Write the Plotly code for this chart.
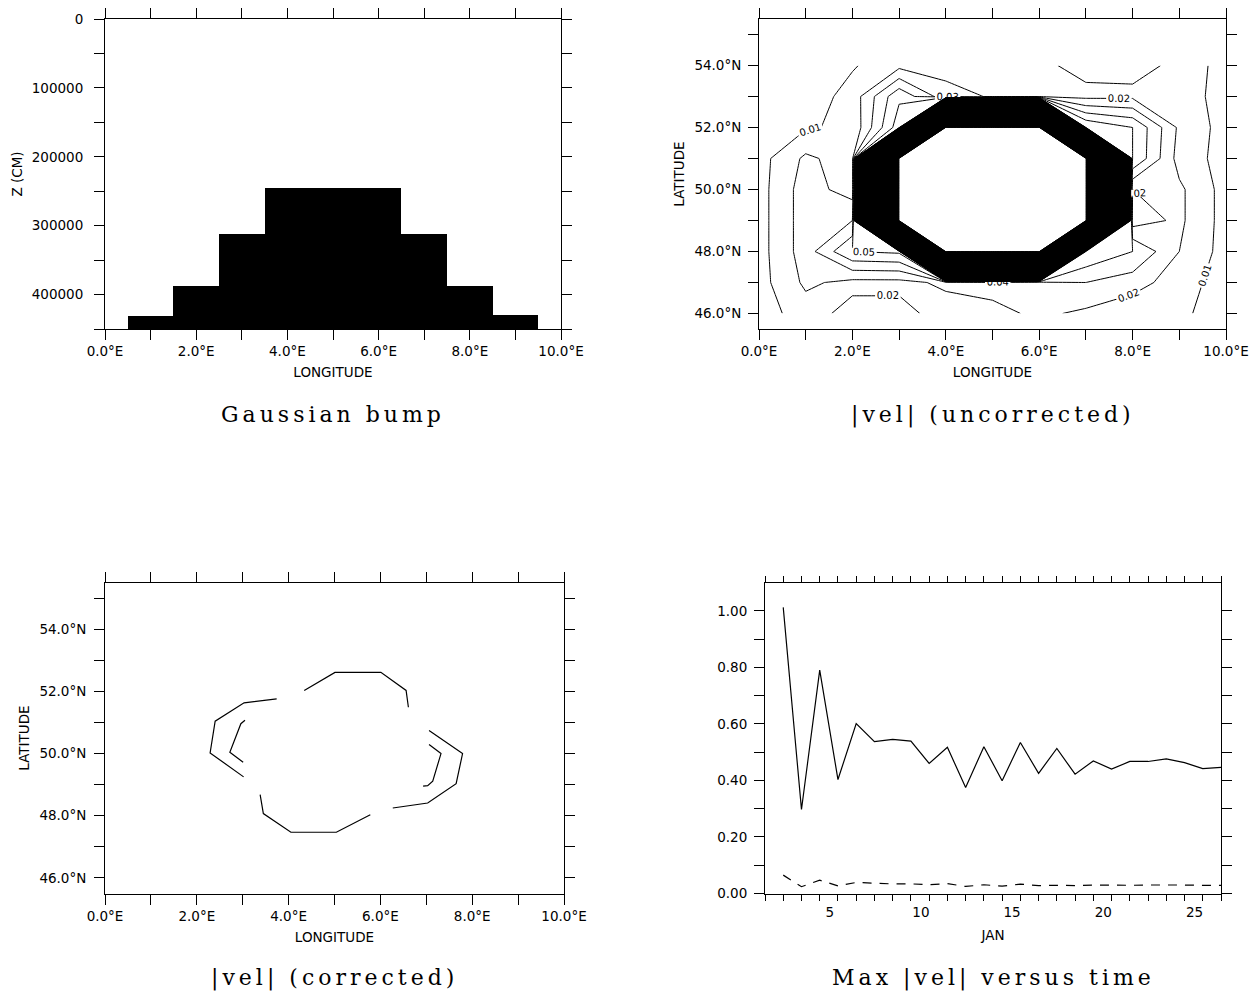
import plotly.graph_objects as go

# ---------------- data ----------------
# Panel 1: Gaussian bump (depth in cm)
bump_lon = [0, 1, 2, 3, 4, 5, 6, 7, 8, 9, 10]
bump_depth = [450000, 431500, 388000, 312500, 245500, 245500, 245500, 312000, 387000, 429500, 450000]
depth_bottom = 450000

# Panel 2: |vel| uncorrected on 1-degree grid (rows = latitude 46..54, cols = longitude 0..10)
grid_lon = [0, 1, 2, 3, 4, 5, 6, 7, 8, 9, 10]
grid_lat = [46, 47, 48, 49, 50, 51, 52, 53, 54]
vel_uncorrected = [
    [0.005, 0.015, 0.024, 0.024, 0.015, 0.017, 0.022, 0.018, 0.012, 0.012, 0.005],  # 46N
    [0.006, 0.022, 0.017, 0.017, 0.022, 0.024, 0.020, 0.030, 0.025, 0.014, 0.006],  # 47N
    [0.006, 0.025, 0.050, 0.052, 1.000, 1.000, 1.000, 0.050, 0.040, 0.020, 0.006],  # 48N
    [0.006, 0.025, 0.030, 1.000, 1.000, 1.000, 1.000, 1.000, 0.015, 0.022, 0.006],  # 49N
    [0.006, 0.025, 0.015, 1.000, 1.000, 1.000, 1.000, 1.000, 0.020, 0.022, 0.006],  # 50N
    [0.006, 0.022, 0.015, 1.000, 1.000, 1.000, 1.000, 1.000, 0.050, 0.016, 0.006],  # 51N
    [0.005, 0.009, 0.012, 0.056, 1.000, 1.000, 1.000, 0.060, 0.050, 0.018, 0.006],  # 52N
    [0.004, 0.004, 0.014, 0.048, 0.024, 0.019, 0.019, 0.0175, 0.018, 0.015, 0.006],  # 53N
    [0.004, 0.005, 0.009, 0.017, 0.016, 0.018, 0.018, 0.023, 0.023, 0.018, 0.005],  # 54N
]

# Panel 3: |vel| corrected contour segments (lon, lat), None separates pieces
corr_lon = [3.74, 3.03, 2.40, 2.29, 3.02, None,
            4.34, 5.01, 6.01, 6.56, 6.61, None,
            3.05, 2.96, 2.72, 3.01, None,
            7.06, 7.79, 7.65, 7.03, 6.27, None,
            7.06, 7.32, 7.14, 7.03, 6.93, None,
            3.38, 3.45, 4.05, 5.04, 5.78]
corr_lat = [51.76, 51.63, 51.04, 50.02, 49.25, None,
            52.03, 52.61, 52.61, 52.03, 51.49, None,
            51.07, 50.96, 50.04, 49.72, None,
            50.74, 50.00, 49.03, 48.41, 48.25, None,
            50.29, 50.00, 49.11, 48.97, 48.95, None,
            48.68, 48.07, 47.47, 47.47, 48.03]

# Panel 4: max |vel| versus time (January days)
days = list(range(3, 28))
max_vel_uncorr = [1.012, 0.297, 0.790, 0.403, 0.601, 0.537, 0.545, 0.539, 0.460, 0.517,
                  0.375, 0.519, 0.399, 0.534, 0.425, 0.513, 0.422, 0.469, 0.440, 0.467,
                  0.467, 0.476, 0.463, 0.442, 0.446]
max_vel_corr = [0.065, 0.024, 0.047, 0.027, 0.039, 0.036, 0.034, 0.034, 0.031, 0.035,
                0.025, 0.031, 0.026, 0.033, 0.028, 0.029, 0.028, 0.030, 0.029, 0.029,
                0.030, 0.031, 0.030, 0.029, 0.029]

lon_ticks = list(range(0, 11))
lon_text = ["0.0°E", "", "2.0°E", "", "4.0°E", "", "6.0°E", "", "8.0°E", "", "10.0°E"]
lat_ticks = list(range(46, 56))
lat_text = ["46.0°N", "", "48.0°N", "", "50.0°N", "", "52.0°N", "", "54.0°N", ""]
z_ticks = list(range(0, 450001, 50000))
z_text = ["0", "", "100000", "", "200000", "", "300000", "", "400000", ""]
v_ticks = [i / 10 for i in range(0, 11)]
v_text = ["0.00", "", "0.20", "", "0.40", "", "0.60", "", "0.80", "", "1.00"]
day_ticks = list(range(2, 28))
day_text = [str(d) if d % 5 == 0 else "" for d in day_ticks]

titles = ["Gaussian bump", "|vel| (uncorrected)", "|vel| (corrected)", "Max |vel| versus time"]

# ---------------- figure ----------------
W, H = 1249, 995
SANS = "DejaVu Sans"

def px_x(a, b):
    return [a / W, b / W]

def px_y(top, bottom):
    return [1 - bottom / H, 1 - top / H]

fig = go.Figure()

fig.add_trace(go.Bar(
    x=bump_lon, y=[depth_bottom - d for d in bump_depth], base=bump_depth, width=1,
    marker=dict(color="black", line=dict(width=0)), xaxis="x", yaxis="y",
    showlegend=False, hoverinfo="skip"))

common = dict(x=grid_lon, y=grid_lat, z=vel_uncorrected, xaxis="x2", yaxis="y2",
              showscale=False, colorscale=[[0, "black"], [1, "black"]], hoverinfo="skip",
              autocontour=False)
fig.add_trace(go.Contour(**common,
                         contours=dict(coloring="lines", start=0.06, end=0.995, size=0.005),
                         line=dict(width=1, smoothing=0)))
fig.add_trace(go.Contour(**common,
                         contours=dict(coloring="lines", start=0.01, end=0.05, size=0.01,
                                       showlabels=True, labelformat=".2f",
                                       labelfont=dict(family=SANS, size=10, color="black")),
                         line=dict(width=1, smoothing=0)))

fig.add_trace(go.Scatter(x=corr_lon, y=corr_lat, mode="lines", connectgaps=False,
                         line=dict(color="black", width=1.2), xaxis="x3", yaxis="y3",
                         showlegend=False, hoverinfo="skip"))

fig.add_trace(go.Scatter(x=days, y=max_vel_uncorr, mode="lines",
                         line=dict(color="black", width=1.2), xaxis="x4", yaxis="y4",
                         showlegend=False, hoverinfo="skip"))
fig.add_trace(go.Scatter(x=days, y=max_vel_corr, mode="lines",
                         line=dict(color="black", width=1.2, dash="9px,8px"), xaxis="x4", yaxis="y4",
                         showlegend=False, hoverinfo="skip"))


def axis(**kw):
    base = dict(showline=True, linecolor="black", linewidth=1, mirror="allticks",
                ticks="outside", ticklen=10, tickwidth=1, tickcolor="black",
                showgrid=False, zeroline=False, tickmode="array", automargin=False,
                tickfont=dict(family=SANS, size=13.5, color="black"),
                title_font=dict(family=SANS, size=13.5, color="black"))
    base.update(kw)
    return base

d1x, d1y = px_x(105, 561), px_y(19, 329)
d2x, d2y = px_x(759, 1226), px_y(19, 329)
d3x, d3y = px_x(105, 564), px_y(582.5, 893.5)
d4x, d4y = px_x(765, 1221), px_y(582.5, 893.5)

fig.update_layout(
    width=W, height=H, margin=dict(l=0, r=0, t=0, b=0, autoexpand=False),
    paper_bgcolor="white", plot_bgcolor="white", showlegend=False, bargap=0,
    xaxis=axis(domain=d1x, anchor="y", range=[0, 10], tickvals=lon_ticks, ticktext=lon_text,
               title=dict(text="LONGITUDE", standoff=9)),
    yaxis=axis(domain=d1y, anchor="x", range=[450000, 0], tickvals=z_ticks, ticktext=z_text,
               ticklabelstandoff=8, title=dict(text="Z (CM)", standoff=6)),
    xaxis2=axis(domain=d2x, anchor="y2", range=[0, 10], tickvals=lon_ticks, ticktext=lon_text,
                title=dict(text="LONGITUDE", standoff=9)),
    yaxis2=axis(domain=d2y, anchor="x2", range=[45.5, 55.5], tickvals=lat_ticks, ticktext=lat_text,
                ticklabelstandoff=4, title=dict(text="LATITUDE", standoff=6)),
    xaxis3=axis(domain=d3x, anchor="y3", range=[0, 10], tickvals=lon_ticks, ticktext=lon_text,
                title=dict(text="LONGITUDE", standoff=9)),
    yaxis3=axis(domain=d3y, anchor="x3", range=[45.5, 55.5], tickvals=lat_ticks, ticktext=lat_text,
                ticklabelstandoff=5, title=dict(text="LATITUDE", standoff=6)),
    xaxis4=axis(domain=d4x, anchor="y4", range=[2, 27], tickvals=day_ticks, ticktext=day_text,
                ticklen=6, ticklabelshift=10, title=dict(text="JAN", standoff=11)),
    yaxis4=axis(domain=d4y, anchor="x4", range=[0, 1.1], tickvals=v_ticks, ticktext=v_text,
                ticklabelstandoff=4),
)

title_pos = [((105 + 561) / 2, 415), ((759 + 1226) / 2, 415), ((105 + 564) / 2, 978), ((765 + 1221) / 2, 978)]
for t, (cx, cy) in zip(titles, title_pos):
    fig.add_annotation(text='<span style="letter-spacing:4px">' + t + "</span>",
                       x=cx / W, y=1 - cy / H, xref="paper", yref="paper",
                       xanchor="center", yanchor="middle", showarrow=False,
                       font=dict(family="DejaVu Serif", size=22, color="black"))

fig.write_html("out.html")
